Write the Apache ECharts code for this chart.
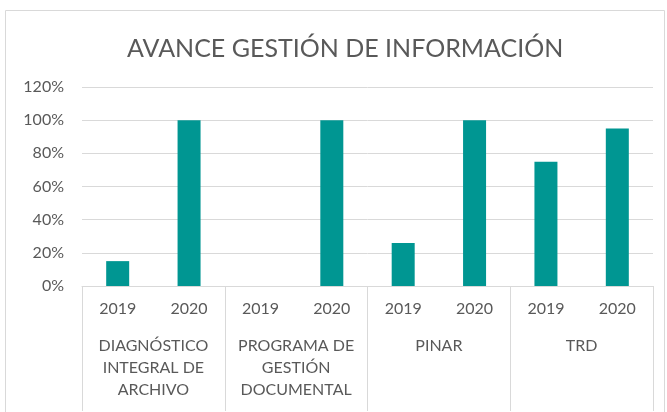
<!DOCTYPE html>
<html lang="es">
<head>
    <meta charset="utf-8">
    <title>Avance gestión de información</title>
    <script src="https://cdn.jsdelivr.net/npm/echarts@6/dist/echarts.min.js"></script>
    <style>
        html, body { margin: 0; padding: 0; background: #fff; }
    </style>
</head>
<body>
<div id="main" style="width: 667px;height:412px;"></div>
<script type="text/javascript">
    // datos
    var years = ['2019', '2020', '2019', '2020', '2019', '2020', '2019', '2020'];
    var groups = ['DIAGNÓSTICO\nINTEGRAL DE\nARCHIVO', 'PROGRAMA DE\nGESTIÓN\nDOCUMENTAL', 'PINAR', 'TRD'];
    var avance = [0.15, 1.00, 0, 1.00, 0.26, 1.00, 0.75, 0.95];
    var yTicks = [0, 0.2, 0.4, 0.6, 0.8, 1.0, 1.2];

    var textColor = '#595959';
    var lineColor = '#d9d9d9';
    var font = 'Lato';

    var myChart = echarts.init(document.getElementById('main'));
    var option = {
        animation: false,
        title: {
            text: 'AVANCE GESTIÓN DE INFORMACIÓN',
            left: 122,
            top: 31,
            textStyle: { color: textColor, fontFamily: font, fontWeight: 'normal', fontSize: 25 }
        },
        graphic: [{
            type: 'rect',
            shape: { x: 5.5, y: 10.5, width: 659, height: 420 },
            style: { fill: 'none', stroke: lineColor, lineWidth: 1 },
            silent: true
        }],
        grid: { left: 82, right: 14, top: 87, bottom: 126 },
        xAxis: [{
            type: 'category',
            data: years,
            position: 'bottom',
            axisLine: { show: true, lineStyle: { color: lineColor } },
            axisTick: { show: false },
            axisLabel: { color: textColor, fontFamily: font, fontSize: 16, margin: 15, interval: 0 }
        }, {
            type: 'category',
            data: groups,
            position: 'bottom',
            axisLine: { show: false },
            axisTick: { show: true, length: 125, interval: 0, lineStyle: { color: lineColor } },
            axisLabel: { color: textColor, fontFamily: font, fontSize: 16, margin: 49, interval: 0, lineHeight: 22, verticalAlign: 'top' }
        }],
        yAxis: {
            type: 'value',
            min: yTicks[0],
            max: yTicks[yTicks.length - 1],
            interval: 0.2,
            axisLine: { show: false },
            axisTick: { show: false },
            splitLine: { lineStyle: { color: lineColor } },
            axisLabel: {
                color: textColor, fontFamily: font, fontSize: 16, margin: 18,
                formatter: function (v) { return Math.round(v * 100) + '%'; }
            }
        },
        series: [{
            type: 'bar',
            xAxisIndex: 0,
            data: avance,
            barWidth: 23,
            itemStyle: { color: '#009692' }
        }]
    };
    myChart.setOption(option);
</script>
</body>
</html>
